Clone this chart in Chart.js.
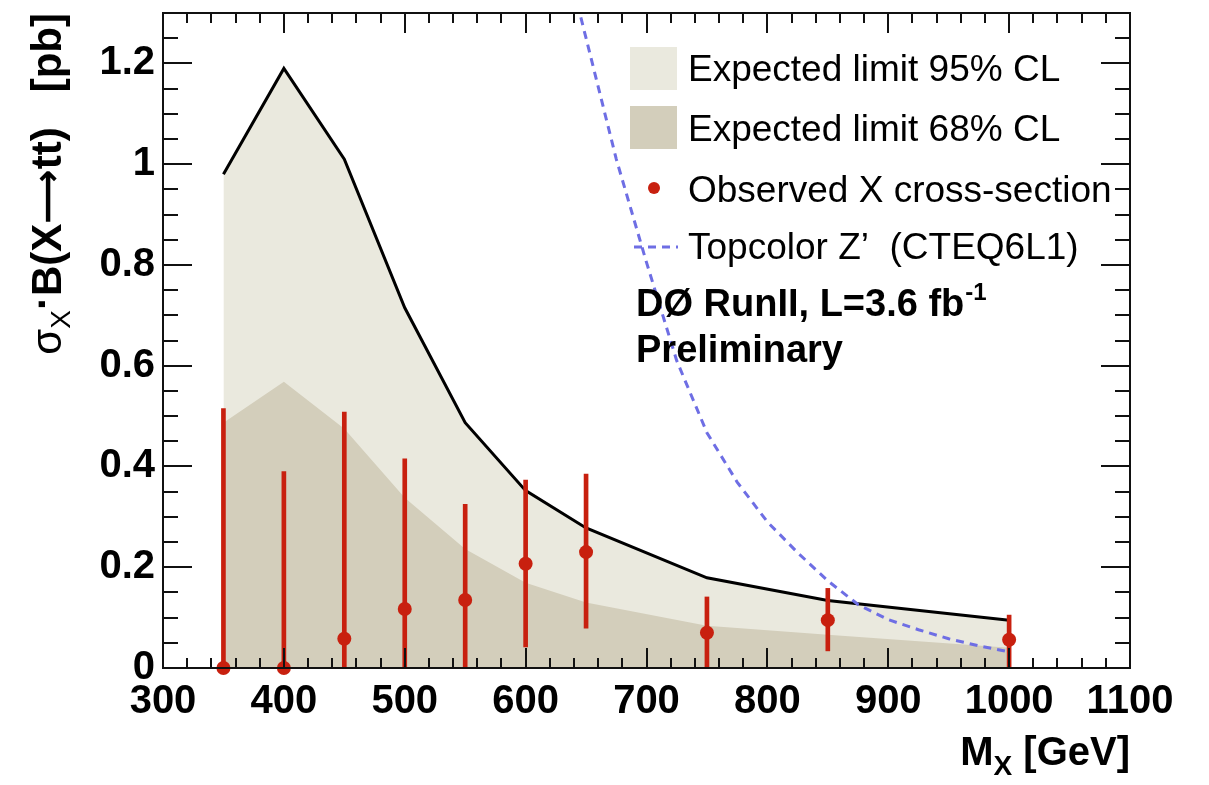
<!DOCTYPE html>
<html>
<head>
  <meta charset="utf-8">
  <title>X to tt cross-section limits</title>
  <script src="https://cdn.jsdelivr.net/npm/chart.js"></script>
  <style>
    body { margin: 0; padding: 0; background: #fff; }
    #wrap { width: 1209px; height: 785px; }
  </style>
</head>
<body>
  <div id="wrap"><canvas id="myChart"></canvas></div>

  <script>
    // values
    const massPoints = [350, 400, 450, 500, 550, 600, 650, 750, 850, 1000];
    const expected95 = [0.98, 1.19, 1.01, 0.715, 0.487, 0.352, 0.278, 0.179, 0.134, 0.095];
    const expected68 = [0.487, 0.568, 0.475, 0.338, 0.236, 0.169, 0.13, 0.084, 0.066, 0.04];
    const observed   = [0, 0, 0.058, 0.117, 0.135, 0.207, 0.23, 0.07, 0.095, 0.056];
    const obsLow     = [0, 0, 0, 0, 0, 0.042, 0.079, 0, 0.034, 0];
    const obsHigh    = [0.515, 0.39, 0.508, 0.415, 0.325, 0.373, 0.385, 0.141, 0.158, 0.105];

    const topcolorMass = [640, 650, 675, 700, 725, 750, 775, 800, 825, 850, 875, 900, 925, 950, 975, 1000];
    const topcolorXsec = [1.345, 1.25, 1.01, 0.805, 0.61, 0.467, 0.369, 0.29, 0.229, 0.173, 0.126, 0.096, 0.076, 0.058, 0.044, 0.032];

    const legendLabels = ['Expected limit 95% CL', 'Expected limit 68% CL', 'Observed X cross-section', 'Topcolor Z\u2019  (CTEQ6L1)'];

    const FONT = '"Liberation Sans", Arial, Helvetica, sans-serif';
    const LIGHT = '#eae9de';
    const DARK = '#d3cebb';
    const RED = '#c8200f';
    const BLUE = '#6e6ee4';

    const pts = (xs, ys) => xs.map((x, i) => ({ x: x, y: ys[i] }));
    const plainNum = v => String(Number(v.toFixed(2)));

    // inward ticks and frame, ROOT style
    const frameTicks = {
      id: 'frameTicks',
      afterDraw(chart) {
        const { ctx, chartArea: a, scales: { x, y } } = chart;
        ctx.save();
        ctx.strokeStyle = '#111';
        ctx.lineWidth = 2;
        ctx.beginPath();
        for (let i = 0; i <= 40; i++) {
          const px = Math.round(x.getPixelForValue(300 + i * 20));
          const len = i % 5 === 0 ? 20 : 10;
          ctx.moveTo(px, a.bottom); ctx.lineTo(px, a.bottom - len);
          ctx.moveTo(px, a.top); ctx.lineTo(px, a.top + len);
        }
        for (let i = 0; i <= 26; i++) {
          const py = Math.round(y.getPixelForValue(i * 0.05));
          const len = i % 4 === 0 ? 29 : 15;
          ctx.moveTo(a.left, py); ctx.lineTo(a.left + len, py);
          ctx.moveTo(a.right, py); ctx.lineTo(a.right - len, py);
        }
        ctx.stroke();
        ctx.strokeRect(a.left, a.top, a.right - a.left, a.bottom - a.top);
        ctx.restore();
      }
    };

    // legend, labels and axis titles
    const texts = {
      id: 'texts',
      afterDatasetsDraw(chart) {
        const ctx = chart.ctx;
        ctx.save();
        ctx.textBaseline = 'alphabetic';
        ctx.textAlign = 'left';

        // legend
        ctx.fillStyle = LIGHT;
        ctx.fillRect(630, 47, 47, 43);
        ctx.fillStyle = DARK;
        ctx.fillRect(630, 106, 47, 43);
        ctx.fillStyle = RED;
        ctx.beginPath(); ctx.arc(654, 188, 6, 0, Math.PI * 2); ctx.fill();
        ctx.strokeStyle = BLUE; ctx.lineWidth = 3; ctx.setLineDash([8, 6]);
        ctx.beginPath(); ctx.moveTo(634, 247); ctx.lineTo(678, 247); ctx.stroke();
        ctx.setLineDash([]);

        ctx.fillStyle = '#000';
        ctx.font = '37px ' + FONT;
        const baselines = [81, 141, 202, 259];
        legendLabels.forEach((t, i) => ctx.fillText(t, 688, baselines[i]));

        // experiment label
        ctx.font = 'bold 38px ' + FONT;
        const main = 'D\u00D8 RunII, L=3.6 fb';
        ctx.fillText(main, 636, 316);
        const w = ctx.measureText(main).width;
        ctx.font = 'bold 24px ' + FONT;
        ctx.fillText('-1', 636 + w + 1, 300);
        ctx.font = 'bold 38px ' + FONT;
        ctx.fillText('Preliminary', 636, 362);

        // x title, right aligned to the axis end
        const xa = chart.chartArea;
        ctx.font = 'bold 40px ' + FONT;
        const wM = ctx.measureText('M').width;
        const wRest = ctx.measureText(' [GeV]').width;
        ctx.font = 'bold 28px ' + FONT;
        const wX = ctx.measureText('X').width;
        const sx = xa.right - (wM + wX + wRest);
        ctx.font = 'bold 40px ' + FONT;
        ctx.fillText('M', sx, 765);
        ctx.font = 'bold 28px ' + FONT;
        ctx.fillText('X', sx + wM, 775);
        ctx.font = 'bold 40px ' + FONT;
        ctx.fillText(' [GeV]', sx + wM + wX, 765);

        // y title, rotated, anchored at the top
        const parts = [
          { t: '\u03C3', f: '42px ' + FONT, dy: 0 },
          { t: 'X', f: '28px ' + FONT, dy: 9 },
          { t: '\u00B7', f: 'bold 42px ' + FONT, dy: -5 },
          { t: 'B(X', f: 'bold 42px ' + FONT, dy: 0 },
          { t: '\u27F6', f: 'bold 38px "DejaVu Sans", ' + FONT, dy: -1 },
          { t: 'tt)   [pb]', f: 'bold 42px ' + FONT, dy: 0 }
        ];
        let total = 0;
        parts.forEach(p => { ctx.font = p.f; p.w = ctx.measureText(p.t).width; total += p.w; });
        ctx.translate(61, 13 + total);
        ctx.rotate(-Math.PI / 2);
        let cx = 0;
        parts.forEach(p => { ctx.font = p.f; ctx.fillText(p.t, cx, p.dy); cx += p.w; });
        ctx.restore();
      }
    };

    const ctx = document.getElementById('myChart').getContext('2d');
    const chart = new Chart(ctx, {
      type: 'line',
      data: {
        datasets: [
          {
            label: legendLabels[0],
            data: pts(massPoints, expected95),
            fill: 'origin',
            backgroundColor: LIGHT,
            borderColor: '#000',
            borderWidth: 3,
            pointRadius: 0,
            order: 4
          },
          {
            label: legendLabels[1],
            data: pts(massPoints, expected68),
            fill: 'origin',
            backgroundColor: DARK,
            borderWidth: 0,
            pointRadius: 0,
            order: 3
          },
          {
            label: legendLabels[3],
            data: pts(topcolorMass, topcolorXsec),
            fill: false,
            borderColor: BLUE,
            borderWidth: 3,
            borderDash: [8, 6],
            pointRadius: 0,
            order: 2
          },
          {
            type: 'bar',
            label: 'error',
            data: massPoints.map((m, i) => ({ x: m, y: [obsLow[i], obsHigh[i]] })),
            backgroundColor: RED,
            borderWidth: 0,
            barThickness: 4,
            grouped: false,
            order: 1
          },
          {
            label: legendLabels[2],
            data: pts(massPoints, observed),
            showLine: false,
            pointRadius: 7,
            pointBackgroundColor: RED,
            pointBorderWidth: 0,
            clip: false,
            order: 0
          }
        ]
      },
      options: {
        responsive: true,
        maintainAspectRatio: false,
        animation: false,
        events: [],
        layout: { padding: { left: 0, top: 13, right: 79, bottom: 0 } },
        plugins: { legend: { display: false }, tooltip: { enabled: false } },
        scales: {
          x: {
            type: 'linear',
            min: 300,
            max: 1100,
            offset: false,
            grid: { display: false, drawTicks: false, offset: false },
            border: { display: false },
            ticks: {
              stepSize: 100,
              autoSkip: false,
              maxRotation: 0,
              padding: 10,
              color: '#000',
              font: { family: FONT, size: 40, weight: 'bold' },
              callback: plainNum
            },
            afterFit(s) { s.height = 117; s.paddingLeft = 0; s.paddingRight = 0; }
          },
          y: {
            min: 0,
            max: 1.3,
            grid: { display: false, drawTicks: false },
            border: { display: false },
            ticks: {
              stepSize: 0.2,
              includeBounds: false,
              padding: 8,
              color: '#000',
              font: { family: FONT, size: 40, weight: 'bold' },
              callback: plainNum
            },
            afterFit(s) { s.width = 163; s.paddingTop = 0; s.paddingBottom = 0; }
          }
        }
      },
      plugins: [texts, frameTicks]
    });
  </script>
</body>
</html>
